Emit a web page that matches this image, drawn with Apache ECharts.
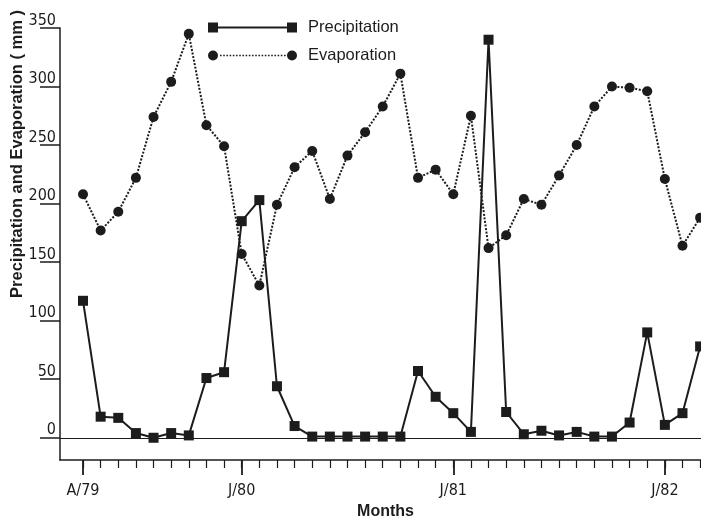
<!DOCTYPE html>
<html>
<head>
<meta charset="utf-8">
<script src="https://cdn.jsdelivr.net/npm/echarts@6/dist/echarts.min.js"></script>
<style>
html,body{margin:0;padding:0;background:#fff;}
#chart{width:701px;height:518px;}
</style>
</head>
<body>
<div id="chart"></div>
<script>
// Month index 0 = April 1979 ... 35 = March 1982
var months = [0,1,2,3,4,5,6,7,8,9,10,11,12,13,14,15,16,17,18,19,20,21,22,23,24,25,26,27,28,29,30,31,32,33,34,35];
var precipitation = [117,18,17,4,0,4,2,51,56,185,203,44,10,1,1,1,1,1,1,57,35,21,5,340,22,3,6,2,5,1,1,13,90,11,21,78];
var evaporation = [208,177,193,222,274,304,345,267,249,157,130,199,231,245,204,241,261,283,311,222,229,208,275,162,173,204,199,224,250,283,300,299,296,221,164,188];
var majorTicks = [0,9,21,33];
var majorLabels = ['A/79','J/80','J/81','J/82'];
var yTicks = [0,50,100,150,200,250,300,350];

function pairs(vals){ return months.map(function(m,i){ return [m, vals[i]]; }); }

// legend icon paths
var precipIcon = 'path://M0,0H10V10H0Z M10,4H79V6H10Z M79,0H89V10H79Z';
var evapParts = ['M0,5A5,5 0 1,1 10,5A5,5 0 1,1 0,5Z'];
for (var dx = 12; dx < 77; dx += 3.2) { evapParts.push('M' + dx.toFixed(1) + ',4.2H' + (dx + 1.6).toFixed(1) + 'V5.8H' + dx.toFixed(1) + 'Z'); }
evapParts.push('M79,5A5,5 0 1,1 89,5A5,5 0 1,1 79,5Z');
var evapIcon = 'path://' + evapParts.join(' ');

var ink = '#1c1c1c';
var labelFont = '"DejaVu Sans Condensed", sans-serif';
var textFont = '"Liberation Sans", "DejaVu Sans", sans-serif';

var chart = echarts.init(document.getElementById('chart'), null, {renderer: 'canvas'});
var option = {
  backgroundColor: '#ffffff',
  animation: false,
  grid: {left: 60, right: 0, top: 28, bottom: 58, containLabel: false, outerBoundsMode: 'none'},
  legend: {
    orient: 'vertical',
    left: 208, top: 19,
    padding: 0,
    itemWidth: 89, itemHeight: 12, itemGap: 11,
    symbolKeepAspect: true,
    selectedMode: false,
    textStyle: {fontFamily: textFont, fontSize: 16.5, color: ink, lineHeight: 12, padding: [0,0,0,6]},
    data: [
      {name: 'Precipitation', icon: precipIcon},
      {name: 'Evaporation', icon: evapIcon}
    ]
  },
  graphic: [{
    type: 'text',
    x: 17, y: 154,
    rotation: Math.PI / 2,
    style: {
      text: 'Precipitation and Evaporation ( mm )',
      fontFamily: textFont, fontSize: 16.5, fontWeight: 'bold',
      fill: ink, align: 'center', verticalAlign: 'middle'
    }
  }],
  xAxis: [{
    type: 'value', min: -1.305, max: 35.05, position: 'bottom',
    axisLine: {show: true, onZero: false, lineStyle: {color: ink, width: 1.5}},
    axisTick: {show: true, customValues: months, length: 8, inside: false, lineStyle: {color: ink, width: 1.2}},
    axisLabel: {show: false},
    splitLine: {show: false}
  }, {
    type: 'value', min: -1.305, max: 35.05, position: 'bottom',
    axisLine: {show: false, onZero: false},
    axisTick: {show: true, customValues: majorTicks, length: 15, lineStyle: {color: ink, width: 1.8}},
    axisLabel: {
      show: true, customValues: majorTicks, margin: 23,
      fontFamily: labelFont, fontSize: 16, color: ink,
      formatter: function(v){ var k = majorTicks.indexOf(Math.round(v)); return k >= 0 ? majorLabels[k] : ''; }
    },
    splitLine: {show: false},
    name: 'Months', nameLocation: 'middle', nameGap: 43,
    nameTextStyle: {fontFamily: textFont, fontSize: 16, fontWeight: 'bold', color: ink, padding: [0,0,0,10]}
  }],
  yAxis: {
    type: 'value', min: -19, max: 350,
    axisLine: {show: true, onZero: false, lineStyle: {color: ink, width: 1.5}},
    axisTick: {show: true, customValues: yTicks, length: 20, lineStyle: {color: ink, width: 1.5}},
    axisLabel: {
      show: true, customValues: yTicks, margin: 4, verticalAlign: 'bottom',
      fontFamily: labelFont, fontSize: 16, color: ink, lineHeight: 15
    },
    splitLine: {show: false}
  },
  series: [{
    name: 'Precipitation', type: 'line', xAxisIndex: 0,
    data: pairs(precipitation),
    symbol: 'rect', symbolSize: 10,
    itemStyle: {color: ink},
    lineStyle: {color: ink, width: 2, type: 'solid'},
    z: 3,
    markLine: {
      silent: true, symbol: 'none', label: {show: false},
      lineStyle: {color: ink, width: 1, type: 'solid'},
      data: [{yAxis: 0}]
    }
  }, {
    name: 'Evaporation', type: 'line', xAxisIndex: 0,
    data: pairs(evaporation),
    symbol: 'circle', symbolSize: 10,
    itemStyle: {color: ink},
    lineStyle: {color: ink, width: 2, type: [2, 1.6]},
    z: 2
  }]
};
chart.setOption(option);
</script>
</body>
</html>
